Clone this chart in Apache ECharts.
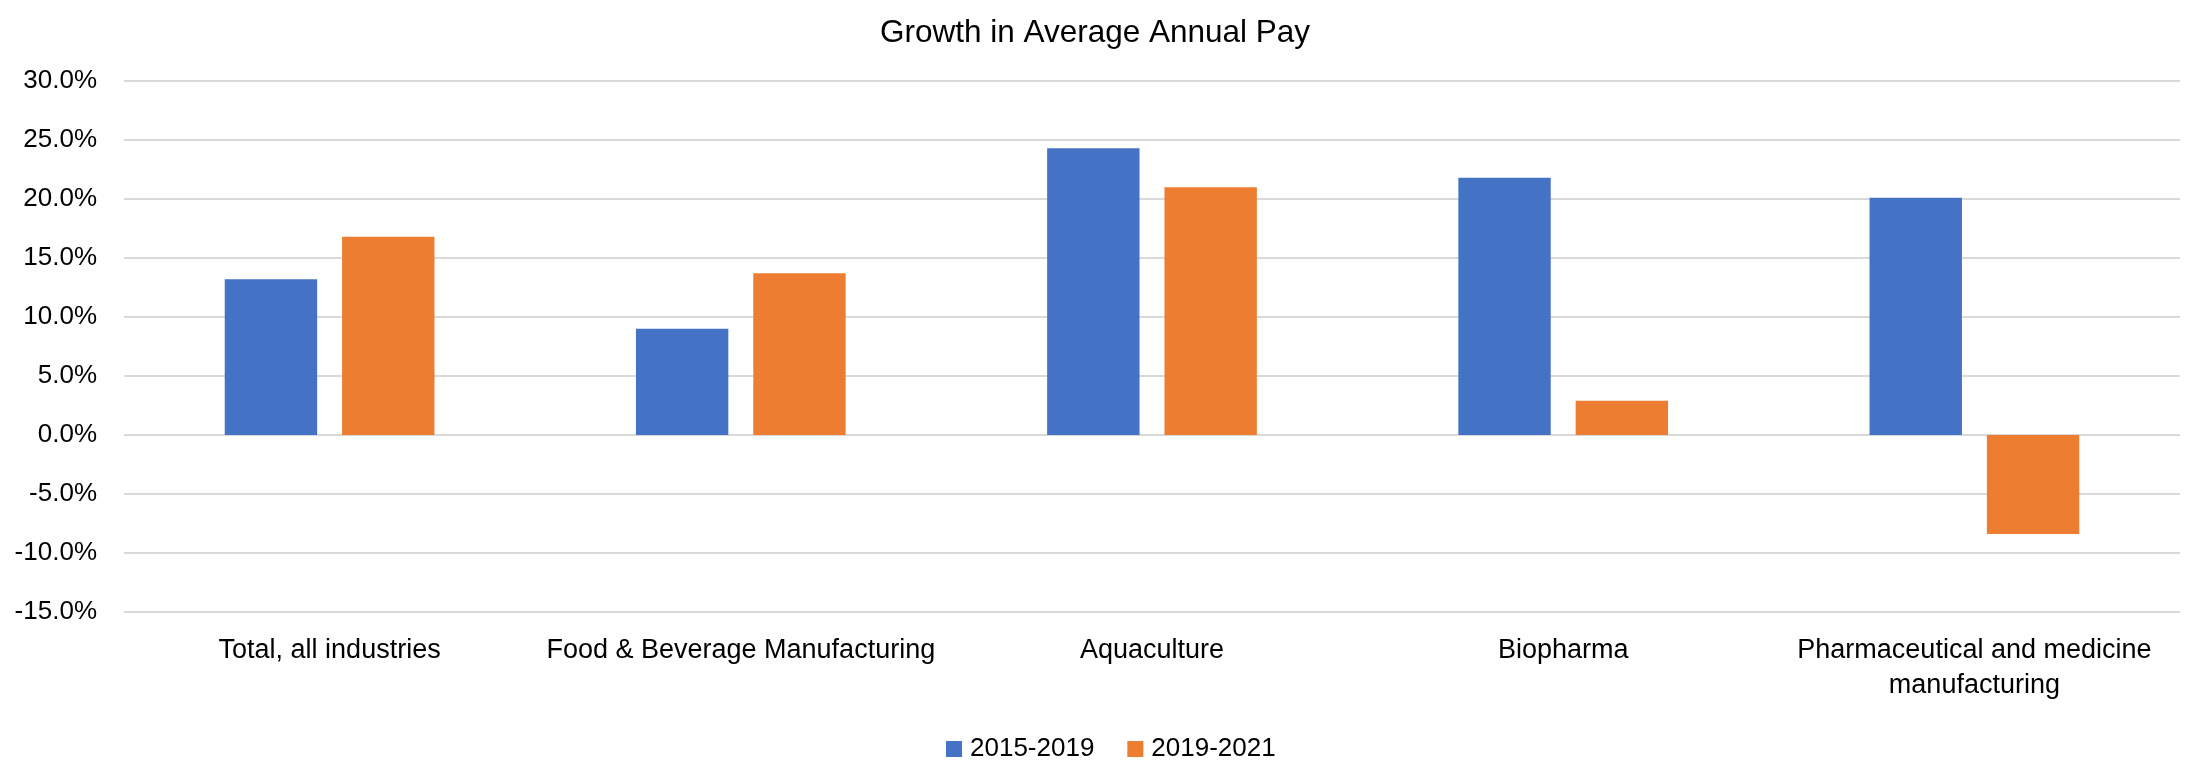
<!DOCTYPE html>
<html>
<head>
<meta charset="utf-8">
<title>Growth in Average Annual Pay</title>
<script src="https://cdn.jsdelivr.net/npm/echarts@6/dist/echarts.min.js"></script>
<style>
  html, body { margin: 0; padding: 0; background: #fff; }
  #chart { width: 2190px; height: 764px; }
</style>
</head>
<body>
<div id="chart"></div>
<script>
// categories and values (percent)
const categories = [
  'Total, all industries',
  'Food & Beverage Manufacturing',
  'Aquaculture',
  'Biopharma',
  'Pharmaceutical and medicine\nmanufacturing'
]
const pay2015to2019 = [13.2, 9.0, 24.3, 21.8, 20.1]
const pay2019to2021 = [16.8, 13.7, 21.0, 2.9, -8.4]

const FONT = 'Liberation Sans, Arial, sans-serif'

const chart = echarts.init(document.getElementById('chart'))

const option = {
  animation: false,
  title: {
    text: 'Growth in Average Annual Pay',
    left: 'center',
    top: 12,
    textStyle: {
      fontFamily: FONT,
      fontSize: 31.5,
      fontWeight: 'normal',
      color: '#000'
    }
  },
  legend: {
    top: 731,
    left: 941,
    icon: 'rect',
    itemWidth: 16,
    itemHeight: 16,
    itemGap: 33,
    textStyle: {
      fontFamily: FONT,
      fontSize: 26,
      color: '#000',
      padding: [0, 0, 0, 3]
    },
    data: ['2015-2019', '2019-2021']
  },
  grid: {
    left: 124,
    right: 10,
    top: 81,
    bottom: 152,
    containLabel: false
  },
  xAxis: {
    type: 'category',
    data: categories,
    axisLine: { show: false },
    axisTick: { show: false },
    axisLabel: {
      interval: 0,
      margin: 21,
      fontFamily: FONT,
      fontSize: 27,
      lineHeight: 35,
      color: '#000'
    }
  },
  yAxis: {
    type: 'value',
    min: -15,
    max: 30,
    interval: 5,
    axisLine: { show: false },
    axisTick: { show: false },
    splitLine: {
      lineStyle: { color: '#d9d9d9', width: 2 }
    },
    axisLabel: {
      margin: 27,
      fontFamily: FONT,
      fontSize: 26,
      color: '#000',
      formatter: function (v) {
        return v.toFixed(1) + '%'
      }
    }
  },
  series: [
    {
      name: '2015-2019',
      type: 'bar',
      data: pay2015to2019,
      barGap: '27%',
      barCategoryGap: '49%',
      itemStyle: { color: '#4472C4' }
    },
    {
      name: '2019-2021',
      type: 'bar',
      data: pay2019to2021,
      barGap: '27%',
      barCategoryGap: '49%',
      itemStyle: { color: '#ED7D31' }
    }
  ]
}

chart.setOption(option)
</script>
</body>
</html>
